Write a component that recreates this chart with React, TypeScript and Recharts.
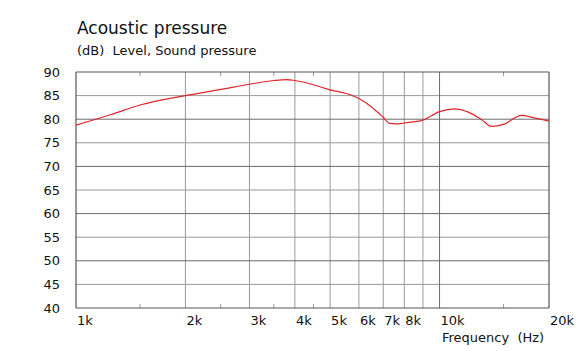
import { LineChart, Line, XAxis, YAxis, ReferenceLine } from 'recharts'

// frequency response
const freqs = [1000, 1250, 1500, 2000, 2500, 3000, 3500, 3800, 4000, 4500, 5000, 5500, 6000, 6500, 7000, 7300, 7600, 8000, 9000, 10000, 11000, 12000, 13000, 13900, 15000, 16800, 18000, 20000]
const levels = [78.75, 81.0, 83.0, 85.0, 86.3, 87.4, 88.2, 88.4, 88.2, 87.3, 86.2, 85.5, 84.4, 82.6, 80.4, 79.1, 79.0, 79.2, 79.8, 81.6, 82.2, 81.5, 80.0, 78.5, 78.9, 80.8, 80.4, 79.6]

const xTicks = [1000, 2000, 3000, 4000, 5000, 6000, 7000, 8000, 10000, 20000]
const xTickLabels = ['1k', '2k', '3k', '4k', '5k', '6k', '7k', '8k', '10k', '20k']
const xMinorGrid = [2000, 3000, 4000, 5000, 6000, 7000, 8000, 9000]
const xMajorGrid = [10000]
const xSmallTicks = [1500, 2500, 3500, 4500, 15000]
const yTicks = [40, 45, 50, 55, 60, 65, 70, 75, 80, 85, 90]
const yMinorGrid = [45, 55, 65, 75, 85]
const yMajorGrid = [50, 60, 70, 80]

const data = freqs.map((f, i) => ({ freq: f, level: levels[i] }))

const font = '"DejaVu Sans", Verdana, sans-serif'
const frame = '#555555'
const major = '#6a6a6a'
const minor = '#999999'

const XTick = (props: any) => {
  const { x, y, payload } = props
  const idx = xTicks.indexOf(payload.value)
  return (
    <text x={x + 1} y={y + 17} textAnchor="start" fontFamily={font} fontSize={13} fill="#111">
      {xTickLabels[idx]}
    </text>
  )
}

const YTick = (props: any) => {
  const { x, y, payload } = props
  return (
    <text x={x - 16} y={y} textAnchor="end" dominantBaseline="central" fontFamily={font} fontSize={13} fill="#111">
      {payload.value}
    </text>
  )
}

export default function App() {
  return (
    <div style={{ position: 'absolute', left: 0, top: 0, width: 578, height: 351, background: '#fff' }}>
      <LineChart width={578} height={351} data={data} margin={{ top: 72, right: 29, bottom: 0, left: 0 }}>
        <XAxis
          dataKey="freq"
          type="number"
          scale="log"
          domain={[1000, 20000]}
          ticks={xTicks}
          interval={0}
          tick={<XTick />}
          tickLine={false}
          axisLine={false}
          tickSize={0}
          tickMargin={0}
          height={43}
          allowDataOverflow
        />
        <YAxis
          type="number"
          domain={[40, 90]}
          ticks={yTicks}
          tick={<YTick />}
          tickLine={false}
          axisLine={false}
          tickSize={0}
          tickMargin={0}
          width={76}
          interval={0}
        />
        {yMinorGrid.map((v) => (
          <ReferenceLine key={'ym' + v} y={v} stroke={minor} strokeWidth={1} />
        ))}
        {xMinorGrid.map((v) => (
          <ReferenceLine key={'xm' + v} x={v} stroke={minor} strokeWidth={1} />
        ))}
        {yMajorGrid.map((v) => (
          <ReferenceLine key={'yM' + v} y={v} stroke={major} strokeWidth={1} />
        ))}
        {xMajorGrid.map((v) => (
          <ReferenceLine key={'xM' + v} x={v} stroke={major} strokeWidth={1} />
        ))}
        {xSmallTicks.map((v) => (
          <ReferenceLine key={'tb' + v} segment={[{ x: v, y: 40 }, { x: v, y: 40.85 }]} stroke={minor} />
        ))}
        {xSmallTicks.map((v) => (
          <ReferenceLine key={'tt' + v} segment={[{ x: v, y: 90 }, { x: v, y: 89.15 }]} stroke={minor} />
        ))}
        <ReferenceLine y={40} stroke={frame} strokeWidth={1.2} />
        <ReferenceLine y={90} stroke={frame} strokeWidth={1.2} />
        <ReferenceLine x={1000} stroke={frame} strokeWidth={1.2} />
        <ReferenceLine x={20000} stroke={frame} strokeWidth={1.2} />
        <Line
          type="monotone"
          dataKey="level"
          stroke="#e0252b"
          strokeWidth={1.2}
          dot={false}
          isAnimationActive={false}
        />
      </LineChart>
      <svg width={578} height={351} style={{ position: 'absolute', left: 0, top: 0, pointerEvents: 'none' }}>
        <text x={77} y={34} fontFamily={font} fontSize={17} fill="#111">Acoustic pressure</text>
        <text x={77} y={55} fontFamily={font} fontSize={13} fill="#111" style={{ whiteSpace: 'pre' }}>(dB)  Level, Sound pressure</text>
        <text x={442} y={342} fontFamily={font} fontSize={13} fill="#111" style={{ whiteSpace: 'pre' }}>Frequency  (Hz)</text>
      </svg>
    </div>
  )
}
